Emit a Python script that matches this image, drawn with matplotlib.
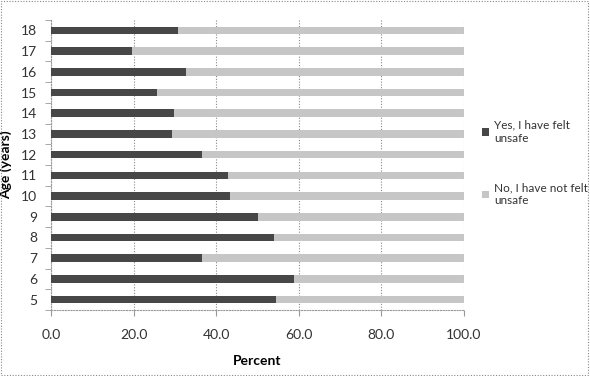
import matplotlib
matplotlib.use("Agg")
import matplotlib.pyplot as plt
import numpy as np

plt.rcParams["font.family"] = ["Lato", "DejaVu Sans"]

ages = ["5", "6", "7", "8", "9", "10", "11", "12", "13", "14", "15", "16", "17", "18"]
felt_unsafe = [54.6, 58.8, 36.6, 54.0, 50.0, 43.3, 42.8, 36.6, 29.3, 29.8, 25.7, 32.6, 19.6, 30.7]
not_unsafe = [100 - v for v in felt_unsafe]
series_labels = ["Yes, I have felt\nunsafe", "No, I have not felt\nunsafe"]
x_ticks = [0, 20, 40, 60, 80, 100]

fig = plt.figure(figsize=(5.9, 3.76), dpi=100)
ax = fig.add_axes([51 / 590, 1 - 310 / 376, 413 / 590, 290 / 376])

y = np.arange(len(ages))
h = 0.37
ax.barh(y, felt_unsafe, height=h, color="#474747", label=series_labels[0], zorder=3)
ax.barh(y, not_unsafe, left=felt_unsafe, height=h, color="#c6c6c6",
        label=series_labels[1], zorder=3)

ax.set_xlim(0, 100)
ax.set_ylim(-0.5, len(ages) - 0.5)
ax.set_xticks(x_ticks)
ax.set_xticklabels([f"{v:.1f}" for v in x_ticks], fontsize=10, color="#333333")
ax.set_yticks(y)
ax.set_yticklabels(ages, fontsize=10, color="#333333")
ax.set_yticks(np.arange(-0.5, len(ages), 1), minor=True)
ax.tick_params(axis="y", which="major", length=0, pad=10)
ax.tick_params(axis="y", which="minor", length=4, color="#999999")
ax.tick_params(axis="x", length=4, color="#999999", pad=10)

ax.grid(axis="x", linestyle=(0, (1, 1.5)), color="#888888", linewidth=0.8, zorder=0)
for side in ["top", "right"]:
    ax.spines[side].set_visible(False)
for side in ["left", "bottom"]:
    ax.spines[side].set_color("#999999")
    ax.spines[side].set_linestyle((0, (1, 1.5)))

ax.set_xlabel("Percent", fontsize=10, fontweight="bold", labelpad=10)
ax.set_ylabel("Age (years)", fontsize=10, fontweight="bold")
ax.yaxis.set_label_coords(-0.094, 0.5)

leg = fig.legend(loc="center left", bbox_to_anchor=(482 / 590, 1 - 163 / 376), frameon=False,
                 fontsize=8.5, handlelength=0.6, handleheight=0.6, handletextpad=0.4,
                 labelspacing=3.3, borderaxespad=0, borderpad=0)
for t in leg.get_texts():
    t.set_color("#333333")

border = plt.Rectangle((0.002, 0.003), 0.995, 0.994, transform=fig.transFigure,
                       fill=False, edgecolor="#888888", linewidth=0.8,
                       linestyle=(0, (1, 1.5)))
fig.patches.append(border)

fig.savefig("out.png", dpi=100)
